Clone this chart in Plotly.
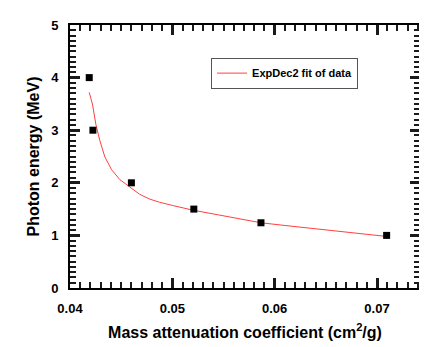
import plotly.graph_objects as go

# data points
mass_atten = [0.04188, 0.04224, 0.0460, 0.0521, 0.05866, 0.07094]
photon_energy = [4.0, 3.0, 2.0, 1.5, 1.24, 1.0]

# ExpDec2 fit curve
fit_x = [0.04188, 0.04221, 0.04253, 0.04292, 0.04341, 0.04406, 0.04487, 0.04584,
         0.04682, 0.04779, 0.04876, 0.0500, 0.0520, 0.0545, 0.0570, 0.05866,
         0.0614, 0.0650, 0.0680, 0.07094]
fit_y = [3.72, 3.48, 3.11, 2.80, 2.49, 2.25, 2.06, 1.92,
         1.78, 1.69, 1.63, 1.57, 1.48, 1.39, 1.30, 1.24,
         1.18, 1.10, 1.04, 0.98]

tick_col = "#1a1a1a"
tick_font = dict(family="Liberation Sans", size=13, color="black", weight="bold")
title_font = dict(family="Liberation Sans", size=16, color="black")

fig = go.Figure()
fig.add_trace(go.Scatter(x=fit_x, y=fit_y, mode="lines",
                         line=dict(color="#ff4040", width=1),
                         name="ExpDec2 fit of data", showlegend=True))
fig.add_trace(go.Scatter(x=mass_atten, y=photon_energy, mode="markers",
                         marker=dict(symbol="square", color="black", size=7),
                         showlegend=False))

fig.update_xaxes(range=[0.04, 0.0742], dtick=0.01, tickformat=".2f",
                 showline=True, linecolor="black", linewidth=2, mirror="ticks",
                 ticks="inside", ticklen=10, tickwidth=2.5, tickcolor=tick_col,
                 ticklabelstandoff=7, tickfont=tick_font,
                 minor=dict(ticks="inside", ticklen=6, tickwidth=1.5, tickcolor=tick_col, dtick=0.001),
                 title=dict(text="<b>Mass attenuation coefficient (cm<sup>2</sup>/g)</b>",
                            font=title_font, standoff=12))
fig.update_yaxes(range=[0, 5], dtick=1,
                 showline=True, linecolor="black", linewidth=2, mirror="ticks",
                 ticks="inside", ticklen=10, tickwidth=2.5, tickcolor=tick_col,
                 ticklabelstandoff=7, tickfont=tick_font,
                 minor=dict(ticks="inside", ticklen=6, tickwidth=1.5, tickcolor=tick_col, dtick=0.1),
                 title=dict(text="<b>Photon energy (MeV)</b>", font=title_font, standoff=8))

fig.update_layout(width=427, height=347,
                  margin=dict(l=62, r=15, t=10, b=67),
                  paper_bgcolor="white", plot_bgcolor="white",
                  legend=dict(x=0.403, y=0.876, xanchor="left", yanchor="top",
                              bordercolor="#555555", borderwidth=1, bgcolor="white",
                              font=dict(family="Liberation Sans", size=11, color="black", weight="bold"),
                              itemwidth=30, tracegroupgap=0))
fig.write_html("out.html")
